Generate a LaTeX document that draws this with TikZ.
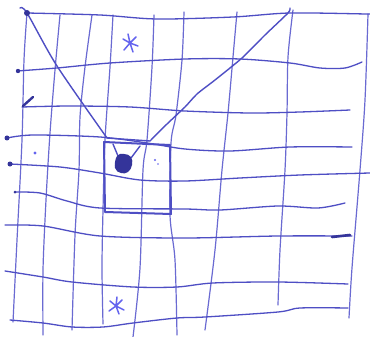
\documentclass[tikz,border=0pt]{standalone}
\usetikzlibrary{calc}
\definecolor{pen}{HTML}{4E4EC4}
\definecolor{penlight}{HTML}{6A6AD2}
\definecolor{blot}{HTML}{34349A}
\definecolor{star}{HTML}{6464EE}
\definecolor{paper}{HTML}{FFFFFF}
\begin{document}
\begin{tikzpicture}[x=1pt,y=-1pt,
  hline/.style={pen,line width=1.3pt,line cap=round,line join=round},
  vline/.style={penlight,line width=1.2pt,line cap=round,line join=round},
  vee/.style={pen,line width=1.4pt,line cap=round,line join=round},
  boxline/.style={pen,line width=2.0pt,line cap=round,line join=round},
  starline/.style={star,line width=1.5pt,line cap=round}]
\useasboundingbox[fill=paper] (0,0) rectangle (370,337);
% vertical grid lines, left edge to right edge
\draw[vline] plot[smooth,tension=0.5] coordinates {(27,13) (24,60) (22,140) (17,240) (13,322)};
\draw[vline] plot[smooth,tension=0.5] coordinates {(60,15) (55,70) (50,133) (46,200) (43,270) (43,335)};
\draw[vline] plot[smooth,tension=0.5] coordinates {(92,15) (85,67) (80,117) (79,170) (75,235) (72,330)};
\draw[vline] plot[smooth,tension=0.5] coordinates {(113,15) (110,67) (105,140) (103,210) (102,268) (103,324)};
\draw[vline] plot[smooth,tension=0.5] coordinates {(154,15) (152,67) (147,140) (143,170) (140,268) (133,337)};
\draw[vline] plot[smooth,tension=0.5] coordinates {(184,12) (182,60) (176,115) (171,143) (170,215) (175,260) (177,335)};
\draw[vline] plot[smooth,tension=0.5] coordinates {(237,12) (233,57) (228,113) (222,170) (215,250) (205,330)};
\draw[vline] plot[smooth,tension=0.5] coordinates {(293,10) (288,57) (287,113) (285,170) (280,250) (278,305)};
\draw[vline] plot[smooth,tension=0.5] coordinates {(368,14) (365,100) (360,170) (352,268) (349,318)};
% horizontal grid lines, top to bottom
\draw[hline] plot[smooth,tension=0.5] coordinates {(27,13) (100,15) (157,19) (233,17) (290,13) (367,14) (370,14)};
\draw[hline] plot[smooth,tension=0.5] coordinates {(17,71) (57,68) (110,63) (185,59) (240,59) (290,63) (320,68) (345,68) (362,62)};
\draw[hline] plot[smooth,tension=0.5] coordinates {(22,107) (70,106) (130,107) (185,111) (250,113) (300,112) (350,110)};
\draw[hline] plot[smooth,tension=0.5] coordinates {(7,138) (33,135) (100,137) (147,143) (185,149) (230,151) (290,147) (352,147)};
\draw[hline] plot[smooth,tension=0.5] coordinates {(10,164) (60,167) (100,173) (140,180) (185,181) (240,178) (300,175) (370,173)};
\draw[hline] plot[smooth,tension=0.5] coordinates {(15,192) (40,193) (67,201) (100,208) (185,209) (220,210) (278,206) (318,208) (345,203)};
\draw[hline] plot[smooth,tension=0.5] coordinates {(5,225) (43,226) (100,236) (185,238) (278,236) (352,236)};
\draw[hline] plot[smooth,tension=0.5] coordinates {(5,271) (43,277) (72,282) (133,287) (177,287) (213,283) (278,282) (348,284)};
\draw[hline] plot[smooth,tension=0.5] coordinates {(10,320) (43,323) (72,327) (103,327) (133,323) (177,318) (205,317) (278,312) (300,308) (348,308)};
% the two sight lines
\draw[vee] plot[smooth,tension=0.5] coordinates {(20,8) (27,13) (57,66) (107,138)};
\draw[vee] plot[smooth,tension=0.4] coordinates {(290,8) (288,13) (265,35) (242,58) (215,80) (197,94) (185,107) (167,124) (150,141)};
\draw[vee] (107,138) -- (150,141);
% small box with the funnel and blot
\draw[boxline] (104,142) -- (170,145) -- (171,214) -- (105,212) -- cycle;
\draw[vee] (113,144) -- (118,156);
\draw[vee] (140,146) -- (131,158);
\fill[blot] plot[smooth cycle,tension=0.7] coordinates {(117,156) (124,154) (131,157) (132,165) (128,172) (121,173) (115,168)};
% ink blots at the line ends
\fill[blot] (27,13) circle (3);
\fill[blot] (18,71) circle (2.2);
\draw[blot,line width=2.4pt,line cap=round] (23,106) -- (33,97);
\fill[blot] (7,138) circle (2.5);
\fill[blot] (10,164) circle (2.5);
\fill[blot] (15,192) circle (1.5);
\draw[blot,line width=2.6pt,line cap=round] (332,237) -- (350,235);
% asterisks
\draw[starline] (130,43) -- (128,34) (130,43) -- (136,37) (130,43) -- (138,46)
  (130,43) -- (133,52) (130,43) -- (124,50) (130,43) -- (123,39);
\draw[starline] (116,306) -- (117,297) (116,306) -- (122,300) (116,306) -- (124,310)
  (116,306) -- (119,314) (116,306) -- (109,311) (116,306) -- (110,301);
% stray specks
\fill[star] (35,153) circle (1.6);
\fill[star] (155,160) circle (1.1);
\fill[star] (158,164) circle (0.9);
\end{tikzpicture}
\end{document}
